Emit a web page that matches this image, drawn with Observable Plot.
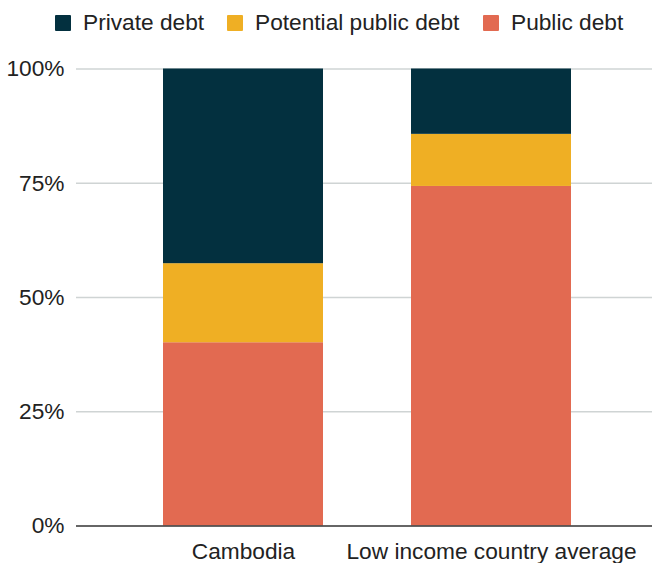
<!DOCTYPE html>
<html>
<head>
<meta charset="utf-8">
<script src="https://cdn.jsdelivr.net/npm/d3@7"></script>
<script src="https://cdn.jsdelivr.net/npm/@observablehq/plot@0.6"></script>
<style>
  html, body { margin: 0; padding: 0; background: #fff; overflow: hidden; }
  body { width: 652px; height: 563px; font-family: "Liberation Sans", Arial, sans-serif; }
  #legend { position: relative; height: 45px; font-size: 22.7px; color: #222; }
  .item { position: absolute; top: 0; height: 45px; display: flex; align-items: center; }
  .sw { width: 16px; height: 16px; border-radius: 1px; margin-right: 12px; }
</style>
</head>
<body>
<div id="legend"></div>
<div id="chart"></div>
<script>
const categories = ["Cambodia", "Low income country average"];
const series = ["Private debt", "Potential public debt", "Public debt"];
const colors = ["#03303F", "#EFAF24", "#E26A51"];
const publicDebt = [0.401, 0.743];
const potentialPublicDebt = [0.173, 0.114];
const privateDebt = [0.426, 0.143];
const yTicks = [0, 0.25, 0.5, 0.75, 1];

const data = [];
categories.forEach((c, i) => {
  data.push({category: c, series: "Public debt", value: publicDebt[i]});
  data.push({category: c, series: "Potential public debt", value: potentialPublicDebt[i]});
  data.push({category: c, series: "Private debt", value: privateDebt[i]});
});

const legendLeft = [55, 227, 483];
const legend = document.getElementById("legend");
series.forEach((s, i) => {
  const it = document.createElement("div");
  it.className = "item";
  it.style.left = legendLeft[i] + "px";
  const sw = document.createElement("div");
  sw.className = "sw";
  sw.style.background = colors[i];
  it.appendChild(sw);
  const t = document.createElement("span");
  t.textContent = s;
  it.appendChild(t);
  legend.appendChild(it);
});

const chart = Plot.plot({
  width: 652,
  height: 518,
  marginLeft: 76,
  marginRight: 0,
  marginTop: 23.5,
  marginBottom: 37.5,
  style: {fontFamily: "Liberation Sans, Arial, sans-serif", fontSize: "22.7px", color: "#222", background: "#fff"},
  x: {domain: categories, range: [88.8, 646.5], paddingInner: 0.353, paddingOuter: 0.3, label: null},
  y: {domain: [0, 1], label: null},
  color: {domain: series, range: colors},
  marks: [
    Plot.ruleY(yTicks.filter(d => d > 0), {stroke: "#cfd4d4", strokeWidth: 1.3}),
    Plot.axisY({ticks: yTicks, tickFormat: d => Math.round(d * 100) + "%", tickSize: 0, tickPadding: 12, fontSize: 22.7, label: null}),
    Plot.axisX({tickSize: 0, tickPadding: 17, fontSize: 22.7, label: null}),
    Plot.barY(data, {x: "category", y: "value", fill: "series", order: ["Public debt", "Potential public debt", "Private debt"]}),
    Plot.ruleY([0], {stroke: "#333", strokeWidth: 1.3})
  ]
});
document.getElementById("chart").appendChild(chart);
</script>
</body>
</html>
